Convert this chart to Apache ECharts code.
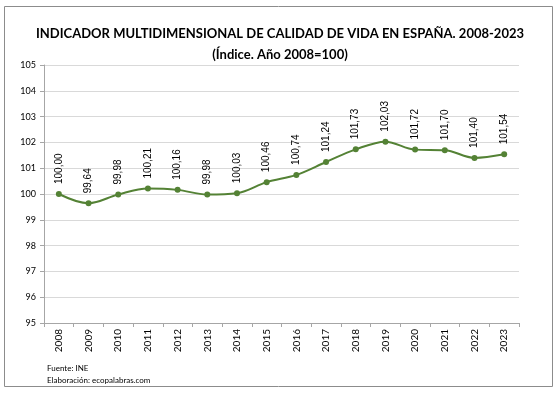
<!DOCTYPE html>
<html><head><meta charset="utf-8">
<script src="https://cdn.jsdelivr.net/npm/echarts@6/dist/echarts.min.js"></script>
<style>html,body{margin:0;padding:0;background:#fff}#c{width:560px;height:394px}</style>
</head><body><div id="c"></div>
<script>
var years = ['2008','2009','2010','2011','2012','2013','2014','2015','2016','2017','2018','2019','2020','2021','2022','2023'];
var values = [100.00, 99.64, 99.98, 100.21, 100.16, 99.98, 100.03, 100.46, 100.74, 101.24, 101.73, 102.03, 101.72, 101.70, 101.40, 101.54];
var yMin = 95, yMax = 105, yStep = 1;
var title1 = 'INDICADOR MULTIDIMENSIONAL DE CALIDAD DE VIDA EN ESPAÑA. 2008-2023';
var title2 = '(Índice. Año 2008=100)';
var source1 = 'Fuente: INE';
var source2 = 'Elaboración: ecopalabras.com';

var chart = echarts.init(document.getElementById('c'));
var F = 'Lato, "Open Sans", sans-serif';
chart.setOption({
  animation: false,
  title: {
    text: title1 + '\n' + title2,
    left: 'center', top: 18,
    textStyle: {fontFamily: F, fontSize: 13, fontWeight: 'bold', color: '#000', lineHeight: 21}
  },
  graphic: [
    {type: 'rect', shape: {x: 4.5, y: 6.5, width: 548, height: 380}, style: {fill: 'none', stroke: '#8c8c8c', lineWidth: 1}, silent: true},
    {type: 'text', left: 47, top: 362, style: {text: source1 + '\n' + source2, fontFamily: F, fontSize: 8, lineHeight: 12, fill: '#000'}}
  ],
  grid: {left: 44, right: 41, top: 65, bottom: 71, containLabel: false},
  xAxis: {
    type: 'category', data: years, boundaryGap: true,
    axisLine: {lineStyle: {color: '#a6a6a6'}},
    axisTick: {show: true, alignWithLabel: false, length: 4, lineStyle: {color: '#a6a6a6'}},
    axisLabel: {rotate: 90, fontFamily: F, fontSize: 10, color: '#000', margin: 6, interval: 0}
  },
  yAxis: {
    type: 'value', min: yMin, max: yMax, interval: yStep,
    axisLine: {show: true, lineStyle: {color: '#a6a6a6'}},
    axisTick: {show: true, length: 4, lineStyle: {color: '#a6a6a6'}},
    splitLine: {lineStyle: {color: '#d9d9d9'}},
    axisLabel: {fontFamily: F, fontSize: 9, color: '#000', margin: 8}
  },
  series: [{
    type: 'line', data: values, smooth: 0.35,
    symbol: 'circle', symbolSize: 6,
    lineStyle: {color: '#548235', width: 2},
    itemStyle: {color: '#548235'},
    label: {
      show: true, position: 'top', rotate: 90, align: 'left', verticalAlign: 'middle', distance: 7,
      fontFamily: '"Liberation Sans", Arial, sans-serif', fontSize: 10, color: '#000',
      formatter: function(p){ return p.value.toFixed(2).replace('.', ','); }
    }
  }]
});
</script></body></html>
